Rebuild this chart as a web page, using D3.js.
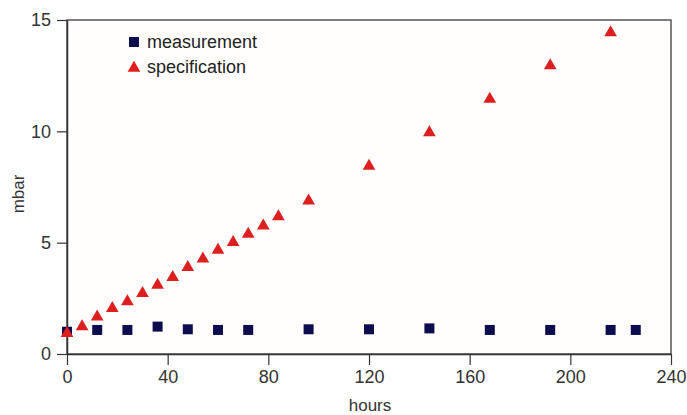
<!DOCTYPE html>
<html>
<head>
<meta charset="utf-8">
<script src="https://cdn.jsdelivr.net/npm/d3@7"></script>
<style>
  body { margin: 0; background: #fff; }
  svg { display: block; font-family: "Liberation Sans", Arial, sans-serif; }
</style>
</head>
<body>
<div id="wrapper"></div>
<script>
// measurement (squares)
const measHours = [0, 12, 24, 36, 48, 60, 72, 96, 120, 144, 168, 192, 216, 226];
const measMbar = [1.0, 1.08, 1.08, 1.23, 1.11, 1.08, 1.08, 1.11, 1.11, 1.15, 1.08, 1.08, 1.08, 1.08];

// specification (triangles)
const specHours = [0, 6, 12, 18, 24, 30, 36, 42, 48, 54, 60, 66, 72, 78, 84, 96, 120, 144, 168, 192, 216];
const specMbar = [0.93, 1.23, 1.67, 2.05, 2.35, 2.72, 3.1, 3.44, 3.89, 4.27, 4.67, 5.01, 5.39, 5.76, 6.17, 6.88, 8.44, 9.94, 11.45, 12.95, 14.44];

const xTicks = [0, 40, 80, 120, 160, 200, 240];
const yTicks = [0, 5, 10, 15];

function drawChart() {
  const dimensions = {
    width: 687,
    height: 415,
    margin: { top: 20, right: 16, bottom: 61, left: 67 },
  };
  dimensions.boundedWidth = dimensions.width - dimensions.margin.left - dimensions.margin.right;
  dimensions.boundedHeight = dimensions.height - dimensions.margin.top - dimensions.margin.bottom;

  const svg = d3.select("#wrapper")
    .append("svg")
    .attr("width", dimensions.width)
    .attr("height", dimensions.height);

  const bounds = svg.append("g")
    .attr("transform", `translate(${dimensions.margin.left},${dimensions.margin.top})`);

  const xScale = d3.scaleLinear().domain([0, 240]).range([0, dimensions.boundedWidth]);
  const yScale = d3.scaleLinear().domain([0, 15]).range([dimensions.boundedHeight, 0]);

  // plot background + frame
  bounds.append("rect")
    .attr("width", dimensions.boundedWidth)
    .attr("height", dimensions.boundedHeight)
    .attr("fill", "#fffefc")
    .attr("stroke", "#555")
    .attr("stroke-width", 1.5);

  // axes
  const xAxis = bounds.append("g")
    .attr("transform", `translate(0,${dimensions.boundedHeight})`)
    .call(d3.axisBottom(xScale).tickValues(xTicks).tickSize(11).tickPadding(5).tickSizeOuter(0));
  const yAxis = bounds.append("g")
    .call(d3.axisLeft(yScale).tickValues(yTicks).tickSize(10).tickPadding(6).tickSizeOuter(0));

  [xAxis, yAxis].forEach((ax) => {
    ax.select(".domain").attr("stroke", "#333").attr("stroke-width", 1.5);
    ax.selectAll(".tick line").attr("stroke", "#333").attr("stroke-width", 1.2);
    ax.selectAll(".tick text")
      .attr("fill", "#333")
      .style("font-size", "18px")
      .style("font-family", "'Liberation Sans', Arial, sans-serif");
  });

  // axis labels
  svg.append("text")
    .attr("x", dimensions.margin.left + dimensions.boundedWidth / 2 + 1)
    .attr("y", 411)
    .attr("text-anchor", "middle")
    .attr("fill", "#333")
    .style("font-size", "17px")
    .text("hours");

  svg.append("text")
    .attr("transform", "translate(24,194) rotate(-90)")
    .attr("text-anchor", "middle")
    .attr("fill", "#333")
    .style("font-size", "17px")
    .text("mbar");

  // data
  const measData = measHours.map((h, i) => ({ x: h, y: measMbar[i] }));
  const specData = specHours.map((h, i) => ({ x: h, y: specMbar[i] }));

  const triangle = d3.symbol().type(d3.symbolTriangle).size(70);
  const square = d3.symbol().type(d3.symbolSquare).size(100);

  bounds.append("g")
    .selectAll("path")
    .data(measData)
    .join("path")
    .attr("d", square)
    .attr("transform", (d) => `translate(${xScale(d.x)},${yScale(d.y)})`)
    .attr("fill", "#0c0c4e");

  bounds.append("g")
    .selectAll("path")
    .data(specData)
    .join("path")
    .attr("d", triangle)
    .attr("transform", (d) => `translate(${xScale(d.x)},${yScale(d.y)})`)
    .attr("fill", "#de1f1f");

  // legend
  const legend = svg.append("g");
  legend.append("path")
    .attr("d", square)
    .attr("transform", "translate(134,42)")
    .attr("fill", "#0c0c4e");
  legend.append("text")
    .attr("x", 147).attr("y", 48)
    .attr("fill", "#222")
    .style("font-size", "18px")
    .text("measurement");
  legend.append("path")
    .attr("d", triangle)
    .attr("transform", "translate(134,68)")
    .attr("fill", "#de1f1f");
  legend.append("text")
    .attr("x", 147).attr("y", 73)
    .attr("fill", "#222")
    .style("font-size", "18px")
    .text("specification");
}
drawChart();
</script>
</body>
</html>
